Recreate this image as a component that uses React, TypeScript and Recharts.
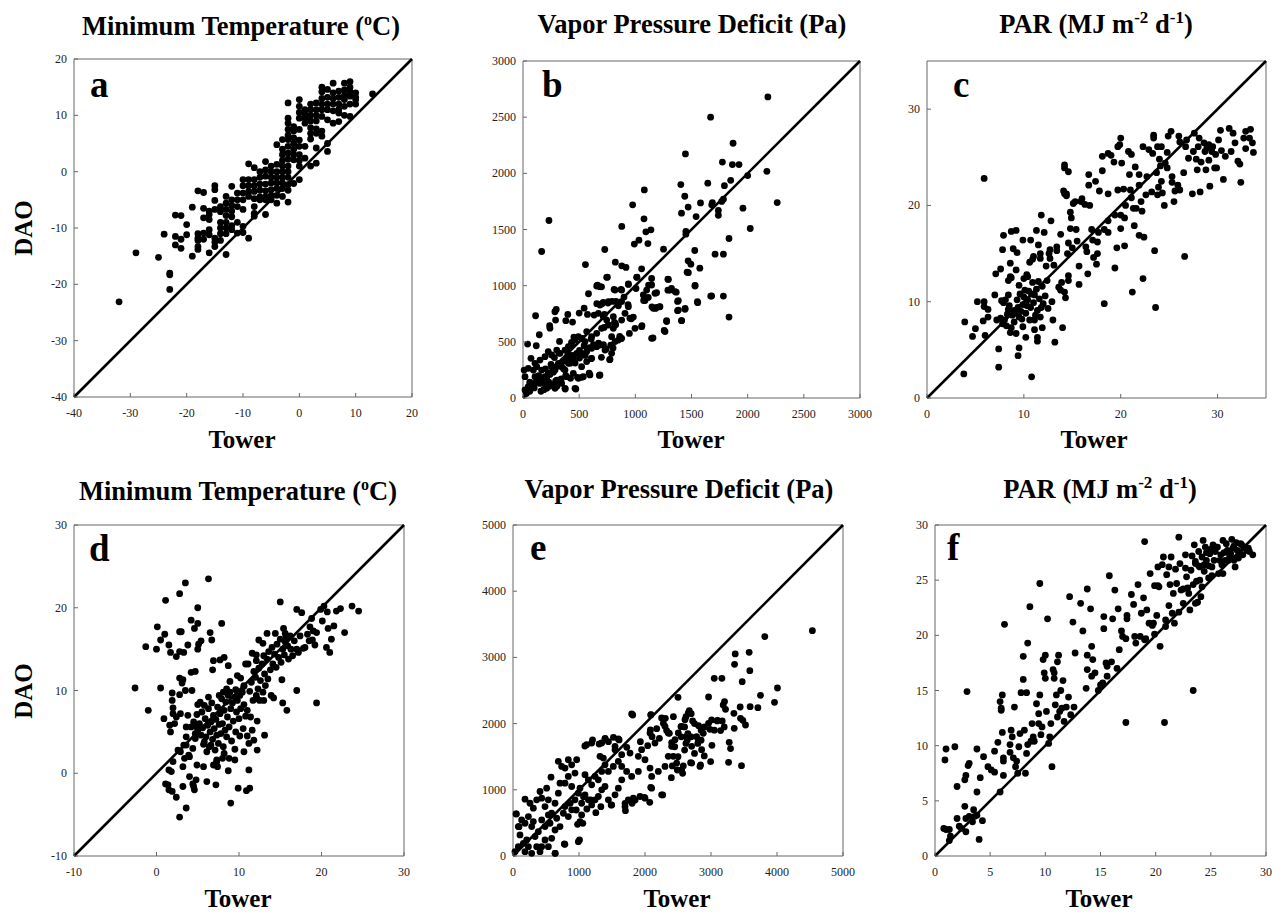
import { ScatterChart, Scatter, XAxis, YAxis, ReferenceLine, ReferenceArea } from 'recharts';

// tower vs DAO pairs: [tower, dao]
const tminA: number[][] = [
  [-32, -23.1], [-29, -14.4], [-25, -15.2], [-24, -11.1], [-23, -18], [-23, -18.3], [-23, -20.9],
  [-22, -7.7], [-22, -11.5], [-22, -13], [-21, -7.8], [-21, -12], [-21, -13.6],
  [-20, -9.4], [-20, -11.2], [-19, -6.3], [-19, -15],
  [-18, -3.4], [-18, -11], [-18, -11.8], [-18, -12.2], [-18, -13.3], [-18, -13.8],
  [-17, -3.7], [-17, -6.5], [-17, -8.2], [-17, -10.9], [-17, -12],
  [-16, -7], [-16, -7.6], [-16, -8.5], [-16, -10.3], [-16, -11.2], [-16, -14.4],
  [-15, -2.5], [-15, -3.2], [-15, -5.1], [-15, -6.7], [-15, -11.8], [-15, -12.5], [-15, -13.3],
  [-14, -6.2], [-14, -7.1], [-14, -9], [-14, -10], [-14, -11], [-14, -12.2],
  [-13, -4.4], [-13, -5.6], [-13, -6.7], [-13, -7.8], [-13, -9], [-13, -10], [-13, -11], [-13, -14.7],
  [-12, -2.6], [-12, -5], [-12, -6], [-12, -7], [-12, -8], [-12, -9.6], [-12, -10.3],
  [-11, -3.8], [-11, -5], [-11, -6.2], [-11, -9], [-11, -10.9],
  [-10, -1.4], [-10, -2.5], [-10, -3.8], [-10, -5], [-10, -6.7], [-10, -9.7], [-10, -10.8],
  [-9, 1.4], [-9, -1.4], [-9, -2.5], [-9, -3.5], [-9, -4.4], [-9, -11.8],
  [-8, 0.7], [-8, -1.4], [-8, -2.5], [-8, -3.5], [-8, -4.8], [-8, -6.2], [-8, -7.4], [-8, -7.9],
  [-7, 0], [-7, -1], [-7, -2.2], [-7, -3.3], [-7, -4.5], [-7, -5],
  [-6, 1.8], [-6, 0.3], [-6, -0.8], [-6, -2.2], [-6, -3.4], [-6, -4.5], [-6, -5], [-6, -7.6],
  [-5, 1], [-5, 0], [-5, -1], [-5, -2], [-5, -3.2], [-5, -4.2], [-5, -5],
  [-4, 4.8], [-4, 1.3], [-4, 0], [-4, -1], [-4, -2], [-4, -3], [-4, -4.2], [-4, -5.6],
  [-3, 5.7], [-3, 4], [-3, 3], [-3, 2], [-3, 1], [-3, 0], [-3, -1], [-3, -2], [-3, -3], [-3, -4.4],
  [-2, 12.2], [-2, 9.5], [-2, 8.6], [-2, 7.5], [-2, 6.5], [-2, 5.7], [-2, 4.5], [-2, 3.3], [-2, 2.2],
  [-2, 1], [-2, 0], [-2, -1], [-2, -2.3], [-2, -3.3], [-2, -5.4],
  [-1, 8], [-1, 7.2], [-1, 6], [-1, 5], [-1, 4], [-1, 3], [-1, 2.1], [-1, -2.1],
  [0, 12.8], [0, 11.6], [0, 10.5], [0, 9.5], [0, 7.5], [0, 5.6], [0, 4.5], [0, 3], [0, 2], [0, 1], [0, -1.4],
  [1, 11], [1, 10.2], [1, 9.5], [1, 8.6], [1, 4.5], [1, 2.4],
  [2, 12], [2, 11], [2, 10], [2, 9], [2, 7.8], [2, 6.8], [2, 5.8], [2, 1],
  [3, 12.2], [3, 11], [3, 10], [3, 9], [3, 7.6], [3, 6.8], [3, 4.2], [3, 1.5],
  [4, 15], [4, 14.2], [4, 13], [4, 12], [4, 11], [4, 9.8], [4, 7.2], [4, 6.3],
  [5, 14.6], [5, 13.2], [5, 12], [5, 11], [5, 9.2], [5, 5], [5, 3.6],
  [6, 15.7], [6, 14], [6, 13], [6, 12], [6, 10.8], [6, 8.6],
  [7, 14.3], [7, 13.2], [7, 12], [7, 11], [7, 10.4], [7, 8.9],
  [8, 15.7], [8, 14.5], [8, 13.5], [8, 12.8], [8, 11.6], [8, 10],
  [9, 16], [9, 15], [9, 14.2], [9, 13.4], [9, 12], [9, 9.8],
  [10, 14], [10, 13.2], [10, 12.8], [10, 12],
  [13, 13.8],
];

const vpdB: number[][] = [
  [2180, 2680], [1670, 2500], [1870, 2268], [1446, 2173], [1775, 2100], [1864, 2078], [1923, 2078],
  [2171, 2018], [2000, 1980], [1849, 1938], [1645, 1912], [1405, 1900], [1793, 1890], [1080, 1852],
  [2263, 1740], [1440, 1796], [1580, 1737], [1686, 1740], [1680, 1720], [1784, 1770], [1769, 1750],
  [1739, 1670], [1739, 1627], [976, 1720], [1411, 1645], [1470, 1700], [1958, 1690], [1541, 1615],
  [1077, 1595], [231, 1580], [2023, 1509], [879, 1527], [1139, 1497], [1094, 1479], [1450, 1482],
  [1450, 1458], [1032, 1405], [991, 1370], [1112, 1375], [1834, 1420], [728, 1322], [1251, 1325],
  [1529, 1313], [166, 1304], [1710, 1280], [1784, 1280], [556, 1188], [822, 1209], [879, 1177],
  [917, 1162], [1470, 1221], [1494, 1191], [1574, 1156], [1056, 1150], [1461, 1120], [751, 1076],
  [1015, 1076], [1145, 1064], [1290, 1058], [1118, 1005], [938, 1011], [1532, 1002], [663, 1005],
  [699, 990], [1006, 975], [873, 966], [811, 966], [1290, 960], [1322, 975], [1364, 942], [583, 928],
  [899, 898], [1189, 937], [1671, 907], [1784, 907], [657, 840], [704, 839], [935, 830], [1074, 868],
  [1115, 895], [1376, 860], [1553, 857], [828, 860], [849, 821], [757, 845], [793, 860], [1148, 812],
  [1216, 812], [1180, 797], [544, 800], [296, 788], [284, 768], [1443, 797], [1376, 777], [112, 732],
  [399, 744], [500, 756], [574, 744], [633, 738], [725, 744], [982, 720], [964, 705], [1278, 688],
  [1411, 688], [1834, 720], [441, 676], [381, 688], [290, 694], [814, 673], [825, 652], [1059, 643],
  [722, 628], [1257, 602], [1157, 534], [240, 622], [237, 643], [145, 563], [325, 504], [453, 542],
  [432, 495], [118, 465], [41, 480], [947, 575], [873, 528], [861, 548], [781, 471], [716, 474],
  [740, 436], [802, 445], [627, 474], [592, 448], [544, 465], [524, 530], [607, 525], [672, 489],
  [503, 424], [698, 362], [772, 341], [607, 350], [553, 379], [503, 356], [464, 311], [376, 335],
  [402, 379], [680, 201], [589, 222], [485, 184], [524, 184], [423, 175], [470, 80], [376, 80],
  [186, 74], [302, 104], [234, 104],
  [71, 353], [107, 309], [151, 338], [196, 368], [225, 413], [255, 383], [300, 427], [329, 398],
  [374, 427], [404, 457], [433, 472], [463, 516], [493, 546], [522, 531], [552, 502], [433, 353],
  [404, 309], [374, 249], [344, 279], [315, 309], [285, 249], [255, 279], [225, 220], [196, 190],
  [166, 249], [137, 160], [107, 190], [77, 131], [47, 101], [18, 71], [10, 249], [18, 190], [47, 264],
  [92, 249], [122, 279], [181, 131], [211, 86], [255, 116], [300, 160], [344, 131], [389, 190],
  [448, 220], [493, 175], [537, 190], [596, 205], [685, 205], [374, 86], [463, 86], [285, 86],
  [478, 398], [522, 398], [567, 413], [611, 442], [656, 457], [685, 472], [611, 353], [567, 324],
  [522, 279], [611, 546], [656, 576], [567, 591], [700, 620], [760, 650], [804, 620], [789, 546],
  [819, 502], [849, 516], [878, 531], [789, 398], [774, 344], [730, 427], [745, 694], [715, 724],
  [671, 754], [804, 724], [819, 665], [878, 694], [908, 754], [952, 710], [997, 620], [1056, 635],
  [938, 813], [878, 858], [760, 858], [715, 852], [685, 828], [656, 997], [685, 991], [745, 1074],
  [819, 961], [878, 961], [938, 1015], [1012, 1074], [1145, 1006], [1101, 961], [1071, 917],
  [1175, 932], [1086, 867], [1160, 798], [1190, 807], [1219, 813], [1279, 680], [1264, 591],
  [1383, 867], [1383, 783], [1412, 689], [1442, 789], [1294, 1056], [1309, 961], [1353, 947],
  [1472, 1116], [1531, 997], [1555, 849], [1679, 908], [1145, 531],
  [30, 40], [60, 60], [90, 110], [120, 150], [150, 130], [180, 170], [210, 180], [240, 210],
  [270, 230], [300, 280], [330, 300], [360, 330], [390, 360], [420, 310], [450, 350], [60, 140],
  [100, 90], [140, 200], [200, 260], [250, 300], [280, 360], [320, 400], [360, 260], [400, 400],
  [440, 380], [160, 60], [230, 140], [290, 150], [340, 170], [380, 200],
];

const parC: number[][] = [
  [3.8, 2.5], [3.9, 7.9], [4.7, 6.4], [5, 7.2], [5.2, 10], [5.9, 22.8], [6, 6.5], [5.8, 8], [5.9, 10],
  [5.9, 9.5], [6.3, 9.2], [6.3, 8.4], [7, 10.7], [7.1, 12.9], [7.2, 8.1], [7.4, 5.1], [7.4, 3.2],
  [7.6, 13.4], [7.7, 10.1], [7.8, 15.4], [7.9, 16.9], [8.4, 10.7], [8.6, 14], [8.4, 12.2], [8.6, 12.6],
  [8.7, 17.3], [9.2, 17.4], [8.9, 15.5], [9.3, 15.1], [9.5, 5.2], [9.4, 4.4], [9.9, 16.4], [10.7, 16.4],
  [10.2, 6.3], [10.8, 2.2], [10.9, 14.4], [11, 14.7], [11.1, 7.1], [11.1, 8.1], [11.4, 5.9], [11.4, 6.3],
  [11.3, 17.4], [11.5, 15.9], [11.8, 19], [11.7, 15], [11.7, 14.5], [11.9, 7.3], [12.1, 17.2],
  [12.3, 13.7], [12.6, 15], [12.7, 15.4], [12.7, 14.5], [12.8, 18.4], [12.9, 10], [13, 8.1],
  [13.2, 5.8], [13.4, 15.7], [13.4, 15.3], [13.1, 13.8], [13.6, 11.5], [13.8, 11.2], [13.8, 17],
  [13.9, 12], [14, 7.3], [14.1, 21.5], [14.2, 21.2], [14.2, 23.9], [14.2, 24.2], [14.6, 23.5],
  [14.3, 10.4], [14.2, 11], [14.4, 21.2], [14.4, 21], [14.6, 16.1], [14.5, 15], [14.6, 12.7],
  [14.6, 12.2], [14.8, 19.3], [14.9, 18.7], [14.8, 17.6], [15, 15.6], [15.1, 20.2], [15.3, 20.4],
  [15.4, 17.5], [15.5, 16.3], [15.7, 11.8], [15.7, 13.7], [15.9, 20.4], [16, 20.7], [16.3, 20.1],
  [16.4, 15.7], [16.5, 15.2], [16.6, 12.9], [16.7, 22.1], [16.7, 23.2], [16.8, 20], [17, 17.5],
  [17.1, 16.4], [17.2, 14.6], [17.4, 22.5], [17.5, 13.9], [17.6, 15], [17.7, 17.2], [17.6, 16.2],
  [17.8, 21.5], [18.1, 23.6], [18.1, 25.1], [18.3, 9.8], [18.3, 17.5], [18.7, 17.2], [18.7, 25.4],
  [18.7, 21.2], [18.7, 18.4], [19, 25.2], [19.3, 24.5], [19.4, 19], [19.4, 13.5], [19.6, 15.6],
  [19.7, 26.1], [19.9, 26.3], [19.7, 21.6], [20, 27], [20, 19], [20, 17.6], [20.1, 24.4], [20.3, 21.7],
  [20.4, 18.7], [20.4, 15.8], [20.5, 20], [20.8, 25.6], [21.1, 25.3], [20.9, 23.2], [21, 21.6],
  [21.1, 20.8], [21.2, 11], [21.3, 19.7], [21.4, 17.9], [21.5, 24], [21.6, 19.7], [21.9, 23.2],
  [21.9, 22.1], [22.1, 20.4], [22.2, 19.4], [21.9, 16.9], [22.4, 16.7], [22.3, 12.4], [22.3, 26.1],
  [22.6, 21.1], [22.7, 23], [22.9, 25.8], [23.2, 21.4], [23.3, 25.4], [23.4, 27.3], [23.4, 27],
  [23.5, 15.3], [23.6, 9.4], [23.8, 26.1], [23.7, 23.4], [23.8, 21.1], [23.9, 21.9], [24, 24.8],
  [24.1, 24.1], [24.2, 22.5], [24.3, 21.3], [24.2, 26.1], [24.5, 20], [24.6, 24.4], [24.8, 25.5],
  [24.8, 23.9], [24.9, 27.2], [25.2, 27.7], [25.3, 23], [25.3, 22.4], [25.5, 20.4], [25.6, 21.5],
  [25.9, 22.1], [26, 27.2], [26.1, 21.6], [26.1, 26.6], [26.5, 23.4], [26.6, 14.7], [26.7, 26.1],
  [26.8, 26.8], [27, 24.9], [27.4, 21.2], [27.5, 25.6], [27.6, 27.5], [27.8, 24.8], [27.9, 23.7],
  [28, 26.1], [28.2, 21.4], [28.1, 27], [28.3, 24.5], [28.6, 26.5], [28.7, 25.6], [28.8, 23.7],
  [28.9, 26], [29.1, 26.3], [29.1, 24.7], [29.2, 22], [29.4, 25.6], [29.5, 26.1], [29.7, 23.9],
  [29.8, 25.3], [29.9, 23.9], [30.1, 26.8], [30.3, 27.8], [30.4, 25.7], [30.6, 22.7], [30.8, 25.1],
  [31.2, 28], [31.4, 25.6], [31.6, 27.5], [31.8, 26.5], [32.1, 24.6], [32.3, 24.3], [32.4, 22.4],
  [32.7, 27], [32.9, 25.9], [32.9, 27.7], [33.3, 27], [33.4, 27.9], [33.6, 26.5], [33.7, 25.5],
  [7.6, 8.3], [7.8, 7.7], [8, 8.1], [8.2, 7.5], [8.3, 8.7], [8.5, 9.6], [8.7, 7.3], [8.8, 8.6],
  [9, 9.1], [9, 7.9], [9.1, 8.8], [9.3, 10.2], [9.4, 9.4], [9.5, 8.4], [9.6, 10.8], [9.7, 9],
  [9.8, 8.2], [9.9, 9.7], [10, 10.5], [10.1, 11.2], [10.2, 8.8], [10.3, 9.6], [10.4, 10.2],
  [10.5, 11.1], [10.6, 8.1], [10.7, 9.4], [10.8, 10.8], [10.9, 12], [11, 9.9], [11.1, 10.7],
  [11.2, 8.6], [11.3, 11.3], [11.4, 9.1], [11.5, 12.1], [11.6, 10.3], [11.8, 9.4], [11.9, 11.6],
  [12, 9.8], [12.2, 10.6], [12.4, 12.2], [8.1, 10.2], [8.6, 6.8], [9.2, 6.7], [9.9, 7.4],
  [10.4, 12.6], [7.9, 9.9], [8.4, 9.2], [11.7, 8.4], [12.5, 9.3], [8.7, 12.5], [9.5, 11.7],
  [10, 12.4], [10.3, 12.8], [9.2, 13.3], [10.6, 14.1],
];

const tminD: number[][] = [
  [-2.6, 10.3], [-1.3, 15.3], [-1, 7.6], [0.1, 17.7], [0, 15], [0.5, 10.3], [0.5, 16.1], [0.9, 6.6],
  [1.1, 20.9], [1, 16.8], [1.5, 15.5], [1.6, 5.8], [1.7, 14.6], [1.7, 5], [1.9, 9.7], [1.9, 8.8],
  [2, 7.9], [2, 7.2], [2.2, 6], [2, 1.4], [1.5, 0.4], [1.8, 0.2], [1.1, -1.3], [1.4, -1.4], [1.5, -2],
  [1.9, -2.2], [2.4, -2.9], [2.8, 21.7], [3.5, 23], [2.8, 17.1], [3, 17.1], [2.4, 14.1], [2.8, 14.7],
  [3.3, 14.6], [2.8, 11.5], [3.2, 11.3], [3.1, 10.9], [3.5, 10], [2.8, 9.5], [2.9, 7.2], [2.4, 6.8],
  [2.6, 2.8], [2.9, 2.6], [3.3, 3.4], [3.6, 4.4], [3.2, 0.8], [2.8, -5.3], [3.6, -4.2], [3.2, -1.6],
  [3.8, 15.5], [4.2, 18.5], [4.2, 12.2], [4.7, 12.3], [4.3, 10], [3.8, 7], [3.6, 5.6], [4, 2],
  [4, -0.4], [4.4, -1.3], [4.5, -1.6], [4.6, -2], [4.8, -0.8], [5, 20], [4.6, 17.5], [5, 18.1],
  [5.1, 15.6], [5.4, 16], [5, 15], [5, 8.3], [4.9, 1], [6.3, 23.5], [6.5, 17], [6.7, 16.1],
  [6.9, 13.6], [6.8, 12.5], [7.9, 18.1], [7.7, 13.7], [8.2, 14], [8.7, 13], [6.1, -1], [7.2, -1.4],
  [5.7, 0.8], [6.9, 1], [7.4, 0.8], [7.3, 1.6], [8.7, 0.3], [9, -3.6], [9.9, -1.8], [10.9, -2.1],
  [11.3, -1.8], [11.2, 0.4], [9.5, 1.6], [8.8, 1.8], [8.2, 2.4], [8.9, 11.1], [9.8, 11.8],
  [10.2, 11.5], [10.6, 10.5], [10.8, 13.2], [11.6, 14.5], [12.1, 14.3], [12.4, 16.1], [12.9, 15.7],
  [13.4, 16.9], [14.4, 16.9], [15, 20.7], [15.4, 17.5], [15.6, 16.9], [15.6, 15.9], [15.2, 11.3],
  [15.3, 8.5], [15.8, 7.6], [17, 10], [17, 19.8], [17.6, 19.4], [17.8, 15.1], [18.6, 17.7],
  [18.8, 18.7], [18.9, 16.1], [19.2, 15.5], [19.4, 8.5], [19.9, 19.8], [20.1, 18.4], [20.3, 20.2],
  [20.6, 15.2], [20.7, 19.5], [20.8, 17.5], [21, 14.6], [21.2, 16.2], [21.5, 17.8], [21.8, 19.6],
  [22.3, 19.9], [22.8, 17], [23.7, 20.2], [24.5, 19.6],
  [4.2, 5.6], [4.5, 6.2], [4.7, 4.8], [4.9, 7.1], [5, 5.2], [5.2, 6], [5.4, 4.6], [5.5, 7.4],
  [5.6, 5.5], [5.8, 3.8], [5.9, 6.6], [6, 4.4], [6.2, 5.8], [6.3, 7.8], [6.4, 3.2], [6.5, 5],
  [6.6, 6.2], [6.8, 4.1], [6.9, 7], [7, 5.4], [7.1, 2.8], [7.2, 6.5], [7.3, 4.6], [7.4, 8],
  [7.5, 3.6], [7.6, 5.9], [7.7, 7.2], [7.8, 4.8], [7.9, 9], [8, 6], [8.1, 3.2], [8.2, 7.6],
  [8.3, 5.2], [8.4, 8.6], [8.5, 4.4], [8.6, 6.8], [8.7, 9.4], [8.8, 5.6], [9, 7.8], [9.1, 3.9],
  [9.2, 8.5], [9.3, 6.3], [9.5, 9.2], [9.6, 5], [9.7, 7.4], [9.8, 8.8], [10, 6.6], [10.1, 4.5],
  [10.2, 7.8], [10.4, 9.8], [10.5, 5.4], [10.6, 8.3], [10.8, 6.9], [11, 4.5], [11, 7.6], [11.2, 3.6],
  [11.4, 6.8], [11.6, 5.2], [11.8, 4], [12.2, 6.3], [12.2, 2.8], [13.1, 4.6], [10.6, 2.6], [9.5, 2.9],
  [8, 1.8], [7.3, 1.4], [6.6, 3.4], [6.1, 2.6], [5.7, 3.5], [4.7, 4.2], [4.4, 3], [3.9, 2.2],
  [3.4, 1.8], [3.6, 3.4], [4.9, 5.6], [5.3, 8.6], [5.8, 8.2], [6.7, 8.5], [6.3, 9.2], [7.6, 9.4],
  [8.1, 9.8], [8.5, 10.2], [8.9, 9.8], [9.6, 10.1], [10.1, 9.4], [10.6, 10.6], [11.3, 9.9],
  [11.5, 11], [11.8, 12.3], [12, 11.6], [12.1, 13.6], [12.2, 9], [12.3, 10.2], [12.4, 12.7],
  [12.5, 8.8], [12.6, 11.2], [12.8, 13.2], [12.9, 9.8], [13, 14.2], [13.1, 12], [13.2, 10.6],
  [13.4, 13.8], [13.5, 11.4], [13.6, 14.7], [13.8, 12.5], [13.9, 9.4], [14, 15.2], [14.1, 13.2],
  [14.2, 9.1], [14.3, 14.4], [14.5, 12.8], [14.6, 15.6], [14.8, 14], [15, 16.2], [15.1, 13.4],
  [15.3, 15], [15.5, 14.3], [15.7, 16.4], [15.9, 15.4], [16, 13.8], [16.2, 16.6], [16.3, 15],
  [16.5, 14.2], [16.7, 16], [17, 15], [17.2, 14.6], [17.4, 16.6], [18, 15.2], [18.3, 16.8],
  [18.5, 16], [19, 17.2], [19.4, 17], [12.1, 9.4], [11.1, 13.2], [11.7, 8.8], [13, 8.8],
];

const vpdE: number[][] = [
  [4536, 3404], [3815, 3314], [3367, 3052], [3578, 3077], [3357, 2896], [3588, 2800], [3049, 2684],
  [3165, 2684], [3473, 2634], [4007, 2538], [3750, 2427], [2963, 2402], [2500, 2397], [3962, 2322],
  [3205, 2332], [3185, 2281], [3220, 2216], [3593, 2256], [3710, 2241], [3442, 2251], [3347, 2155],
  [2671, 2196], [1814, 2130], [2087, 2130], [2430, 2105], [2621, 2105], [2308, 2080], [2278, 2004],
  [2722, 2040], [3482, 2050], [3523, 1979], [3447, 2080], [2963, 2004], [3094, 2040], [3170, 2040],
  [3009, 2055], [2812, 1969], [2545, 1954], [3352, 1929], [2983, 1914], [3145, 1894], [2177, 1924],
  [2082, 1904], [1522, 1793], [2369, 1853], [2328, 1894], [2782, 1803], [2883, 1853], [2107, 1803],
  [2218, 1778], [1205, 1753], [1305, 1692], [1089, 1662], [1396, 1778], [1446, 1727], [1608, 1753],
  [1724, 1642], [1930, 1727], [2041, 1667], [2404, 1712], [2641, 1753], [3014, 1672], [3276, 1717],
  [3296, 1622], [3266, 1415], [3462, 1365], [2994, 1425], [2898, 1511], [2842, 1375], [2691, 1410],
  [2580, 1360], [2570, 1249], [2490, 1299], [2414, 1360], [2399, 1183], [2268, 922], [2072, 811],
  [2087, 1037], [1991, 886], [1850, 846], [1698, 796], [1704, 685], [1804, 796], [1487, 770],
  [1331, 745], [1255, 655], [1179, 846], [1068, 896], [1119, 710], [1058, 493], [978, 478],
  [1008, 242], [786, 176], [958, 695], [867, 796], [640, 40], [50, 635], [91, 443],
  [2600, 1950], [2650, 1850], [2700, 1800], [2750, 2000], [2850, 1900], [2900, 1950], [3050, 1900],
  [3100, 2050], [2450, 1650], [2600, 1600], [2750, 1550], [3200, 1950], [2850, 1750], [2500, 1500],
  [2620, 1700], [2550, 1800], [2700, 2150], [2800, 1700],
  [1798, 2146], [2091, 2136], [46, 636], [81, 444], [106, 318], [157, 192], [182, 858], [258, 797],
  [308, 722], [359, 848], [409, 974], [435, 873], [510, 1025], [576, 1191], [687, 1429], [737, 1353],
  [788, 1328], [838, 1454], [889, 1378], [939, 1252], [965, 1454], [485, 747], [536, 848], [586, 646],
  [637, 797], [687, 949], [712, 1100], [788, 1100], [838, 1202], [889, 1050], [939, 848], [990, 949],
  [1040, 797], [1015, 1025], [1091, 924], [1142, 848], [1192, 772], [1243, 848], [1293, 899],
  [1344, 1000], [1394, 1050], [1445, 848], [1495, 772], [1546, 924], [1596, 1025], [1647, 1151],
  [1697, 747], [1747, 848], [1823, 873], [1924, 899], [2000, 873], [2101, 1025], [2101, 1202],
  [2252, 924], [2202, 1277], [2303, 1353], [2353, 1505], [2404, 1656], [2455, 1757], [2505, 1858],
  [2555, 1959], [2606, 2060], [2656, 2161], [2631, 1808], [2707, 1656], [2808, 1757], [2858, 1606],
  [2833, 1353], [2707, 1403], [2555, 1302], [2480, 1403], [2429, 1505], [2353, 1858], [2303, 1959],
  [2252, 2085], [2076, 1858], [2151, 1707], [1949, 1606], [1899, 1505], [2000, 1454], [2076, 1328],
  [1899, 1277], [1798, 1202], [1722, 1277], [1647, 1353], [1596, 1429], [1520, 1353], [1445, 1277],
  [1394, 1378], [1344, 1277], [1293, 1151], [1243, 1202], [1192, 1075], [1142, 1151], [1091, 1227],
  [1369, 1479], [1318, 1505], [1546, 1606], [1647, 1530], [1773, 1555], [1116, 1681], [1192, 1707],
  [1344, 1707], [1394, 1767], [1596, 1767], [1546, 1656], [1015, 505], [990, 217], [778, 181],
  [637, 40], [283, 40], [359, 141], [233, 141], [485, 242], [384, 368], [283, 444], [182, 495],
  [131, 545], [435, 545], [561, 495], [637, 393], [712, 444], [485, 444], [334, 293], [207, 242],
  [81, 141], [30, 66], [434, 141], [536, 141], [586, 267], [409, 66], [182, 66], [233, 596],
  [308, 520], [536, 621], [662, 570], [763, 646], [838, 596], [788, 747], [889, 697], [1040, 621],
  [1015, 520],
];

const parF: number[][] = [
  [0.8, 2.5], [1, 2.4], [1.3, 2.4], [0.9, 8.7], [1, 9.7], [1.4, 1.8], [1.3, 1.4], [1.8, 9.9], [2, 6.3],
  [2, 3.4], [2.2, 2.7], [2.4, 2.5], [2.8, 2.2], [2.7, 6.9], [2.7, 4.5], [2.9, 14.9], [2.8, 7.3],
  [3, 8.2], [3.1, 8.4], [2.8, 3.4], [3.1, 3.6], [3.4, 3.1], [3.5, 4.2], [3.6, 3.6], [3.8, 9.7],
  [3.8, 5.8], [3.8, 3.7], [4, 1.5], [4.1, 7.1], [4.3, 3.2], [4.4, 9], [4.8, 8.1], [5.1, 7.8],
  [5.4, 7.6], [5.4, 9.5], [5.7, 10.3], [5.9, 5.8], [5.9, 14], [6.1, 14.6], [6, 13.4], [6, 13.2],
  [6.1, 11.2], [6.2, 8.9], [6.2, 8.6], [6.2, 7.3], [6.3, 21], [6.8, 9.4], [6.8, 10.1], [6.9, 11.4],
  [7, 10.8], [7.1, 8.9], [7.2, 13.5], [7.4, 8.6], [7.3, 8.1], [7.5, 7.5], [7.6, 9.9], [7.7, 11.1],
  [7.8, 14.8], [8, 16], [8, 18.1], [8.1, 11.4], [8.3, 14.8], [8.4, 19.3], [8.2, 7.5], [8.3, 9.3],
  [8.4, 10.1], [8.6, 22.6], [8.7, 10.4], [8.8, 12], [8.9, 10.8], [9, 10.4], [9.2, 13.8], [9.4, 12],
  [9.4, 12.9], [9.5, 24.7], [9.5, 14.6], [9.6, 11], [9.7, 11.7], [9.8, 17.8], [9.9, 16.6], [10, 16.1],
  [10, 18.2], [10.1, 13.1], [10.2, 21.5], [10.3, 10.2], [10.4, 10.8], [10.5, 12], [10.6, 8.1],
  [10.7, 16.9], [10.8, 16.6], [10.8, 16.1], [10.9, 13.7], [11, 14.6], [11.1, 17.6], [11.2, 18.2],
  [11.1, 12.6], [11.3, 13.1], [11.4, 15], [11.5, 13.4], [11.6, 15.9], [11.7, 12.2], [11.9, 13.5],
  [12.1, 14.4], [12.2, 23.5], [12.3, 12.8], [12.5, 21.2], [12.6, 13.5], [12.7, 18.4], [13.2, 22.9],
  [13.4, 20.4], [13.7, 15.2], [13.8, 24.2], [13.8, 18.2], [13.8, 16.9], [14.1, 22.4], [14.2, 19],
  [14.3, 17.8], [14.2, 16.3], [14.5, 16.6], [14.8, 15], [15, 15.5], [15.2, 15.7], [15.3, 21.7],
  [15.3, 20.6], [15.5, 17.5], [15.6, 17.2], [15.6, 16.3], [15.8, 25.4], [16, 17.6], [16.1, 21.5],
  [16.3, 24.1], [16.5, 17], [16.6, 22.4], [16.7, 18.7], [16.9, 20.4], [17, 19.9], [17.3, 19.7],
  [17.3, 12.1], [17.4, 21.8], [17.4, 21.5], [17.8, 23.7], [18, 22.8], [18.1, 19.9], [18.2, 19.3],
  [18.4, 24.6], [18.6, 19.9], [18.7, 22], [18.9, 23.4], [19, 28.5], [19, 19.6], [19.1, 19.7],
  [19.2, 22.3], [19.4, 21.1], [19.5, 25.6], [19.7, 20.9], [19.8, 21.1], [19.9, 20.1], [19.9, 24.5],
  [20.1, 21.8], [20.2, 24.5], [20.3, 24.4], [20.2, 26.2], [20.4, 19], [20.6, 26.4], [20.7, 27.1],
  [20.8, 12.1], [20.9, 21.4], [20.9, 20.8], [21, 25.5], [21.2, 26.2], [21.2, 22.7], [21.3, 24.6],
  [21.4, 27.1], [21.5, 22], [21.6, 23.8], [21.7, 21.1], [21.8, 26], [21.9, 24.7], [22.1, 28.9],
  [22.1, 22.1], [22.2, 26.5], [22.3, 24.1], [22.5, 24.2], [22.5, 22.9], [22.7, 26.1], [22.7, 27.3],
  [22.8, 25.3], [23, 23.8], [23.1, 22.3], [23.2, 25.9], [23.4, 15], [23.5, 28.2], [23.6, 26.7],
  [23.7, 24.9], [23.8, 23], [23.9, 27.6], [24, 26.2], [24.1, 23.5], [24.2, 27.1], [24.3, 28.6],
  [24.4, 25.8], [24.5, 28], [24.6, 26.8], [24.8, 25.2], [24.9, 27.4], [25.1, 26.2], [25.2, 28.2],
  [25.3, 26.8], [25.5, 28], [25.7, 25.6], [25.9, 27.3], [26.1, 28.6], [26.1, 25.6], [26.3, 26.8],
  [26.5, 27.7], [26.6, 26.8], [26.8, 27.4], [26.9, 28.7], [27.1, 28.1], [27.2, 26.2], [27.4, 27.7],
  [27.5, 27], [27.7, 28.3], [27.9, 27.3], [28, 27.9], [28.3, 27.7], [28.5, 27.6], [28.8, 27.3],
  [23.3, 27.2], [23.6, 26.5], [24, 25], [24.2, 24.4], [24.6, 27.5], [24.8, 26.3], [25, 27.8],
  [25.4, 27.6], [25.6, 28], [25.8, 26.8], [26.2, 27.5], [26.4, 28.3], [26.7, 27.2], [27, 27.9],
  [27.3, 28.4], [27.6, 27.5], [27.8, 28.2], [28.1, 28], [28.4, 27.9], [23.9, 26.3], [24.4, 26.4],
  [25.1, 25.4], [26, 26.4], [27.1, 26.8], [22.9, 24.3], [23.4, 24.6], [23.6, 22.9],
];

const tminTicksTop = [-40, -30, -20, -10, 0, 10, 20];
const vpdTicksTop = [0, 500, 1000, 1500, 2000, 2500, 3000];
const parTicksTop = [0, 10, 20, 30];
const tminTicksBottom = [-10, 0, 10, 20, 30];
const vpdTicksBottom = [0, 1000, 2000, 3000, 4000, 5000];
const parTicksBottom = [0, 5, 10, 15, 20, 25, 30];

const SERIF = '"Liberation Serif", "Times New Roman", serif';
const FRAME = '#666';

const panels = [
  { id: 'a', data: tminA, domain: [-40, 20], ticks: tminTicksTop, left: 74, top: 59, w: 338, h: 338 },
  { id: 'b', data: vpdB, domain: [0, 3000], ticks: vpdTicksTop, left: 523, top: 61, w: 337, h: 337 },
  { id: 'c', data: parC, domain: [0, 35], ticks: parTicksTop, left: 927, top: 61, w: 339, h: 337 },
  { id: 'd', data: tminD, domain: [-10, 30], ticks: tminTicksBottom, left: 74, top: 525, w: 330, h: 331 },
  { id: 'e', data: vpdE, domain: [0, 5000], ticks: vpdTicksBottom, left: 513, top: 525, w: 330, h: 331 },
  { id: 'f', data: parF, domain: [0, 30], ticks: parTicksBottom, left: 935, top: 525, w: 331, h: 331 },
];

const Dot = (props: any) => <circle cx={props.cx} cy={props.cy} r={3.4} fill="#000" />;

const labelStyle = { fill: '#222', fontSize: 12, fontFamily: SERIF };

// inward tick marks, labels outside
const BottomTick = ({ x, y, payload }: any) => (
  <g>
    <line x1={x} y1={y} x2={x} y2={y - 4} stroke={FRAME} />
    <text x={x} y={y + 20} textAnchor="middle" {...labelStyle}>{payload.value}</text>
  </g>
);
const LeftTick = ({ x, y, payload }: any) => (
  <g>
    <line x1={x} y1={y} x2={x + 4} y2={y} stroke={FRAME} />
    <text x={x - 7} y={y + 4} textAnchor="end" {...labelStyle}>{payload.value}</text>
  </g>
);
const TopTick = ({ x, y }: any) => <line x1={x} y1={y} x2={x} y2={y + 4} stroke={FRAME} />;
const RightTick = ({ x, y }: any) => <line x1={x} y1={y} x2={x - 4} y2={y} stroke={FRAME} />;

const ML = 60;
const MT = 10;
const MR = 25;
const MB = 30;

function Panel({ p }: { p: (typeof panels)[number] }) {
  const pts = p.data.map(([x, y]) => ({ x, y }));
  const [d0, d1] = p.domain;
  const common = {
    type: 'number' as const,
    domain: p.domain,
    ticks: p.ticks,
    interval: 0 as const,
    tickSize: 0,
    tickMargin: 0,
    axisLine: false,
    tickLine: false,
  };
  return (
    <div style={{ position: 'absolute', left: p.left - ML, top: p.top - MT }}>
      <ScatterChart
        width={p.w + ML + MR}
        height={p.h + MT + MB}
        margin={{ top: MT, right: MR, bottom: 0, left: 0 }}
      >
        <XAxis xAxisId="b" dataKey="x" height={MB} tick={<BottomTick />} {...common} />
        <XAxis xAxisId="t" orientation="top" height={0} tick={<TopTick />} {...common} />
        <YAxis yAxisId="l" dataKey="y" width={ML} tick={<LeftTick />} {...common} />
        <YAxis yAxisId="r" orientation="right" width={0} tick={<RightTick />} {...common} />
        <ReferenceArea
          xAxisId="b"
          yAxisId="l"
          x1={d0}
          x2={d1}
          y1={d0}
          y2={d1}
          fill="none"
          fillOpacity={0}
          stroke={FRAME}
          strokeWidth={1}
          ifOverflow="visible"
        />
        <ReferenceLine
          xAxisId="b"
          yAxisId="l"
          segment={[{ x: d0, y: d0 }, { x: d1, y: d1 }]}
          stroke="#000"
          strokeWidth={2.6}
        />
        <Scatter xAxisId="b" yAxisId="l" data={pts} shape={Dot} isAnimationActive={false} />
      </ScatterChart>
    </div>
  );
}

function Title({ x, y, kind }: { x: number; y: number; kind: string }) {
  return (
    <text x={x} y={y} textAnchor="middle" fontSize={26.5}>
      {kind === 'tmin' && (
        <>
          Minimum Temperature (
          <tspan dy={-10} fontSize={16}>o</tspan>
          <tspan dy={10}>C)</tspan>
        </>
      )}
      {kind === 'vpd' && 'Vapor Pressure Deficit (Pa)'}
      {kind === 'par' && (
        <>
          PAR (MJ m
          <tspan dy={-10} fontSize={17}>-2</tspan>
          <tspan dy={10}> d</tspan>
          <tspan dy={-10} fontSize={17}>-1</tspan>
          <tspan dy={10}>)</tspan>
        </>
      )}
    </text>
  );
}

function Labels() {
  const tower = [[242, 448], [691, 448], [1094, 448], [238, 907], [677, 907], [1099, 907]];
  const letters: [string, number, number][] = [
    ['a', 90, 97], ['b', 542, 97], ['c', 953, 97], ['d', 89, 561], ['e', 530, 560], ['f', 947, 560],
  ];
  return (
    <svg
      width={1280}
      height={913}
      style={{ position: 'absolute', left: 0, top: 0, pointerEvents: 'none' }}
      fontFamily={SERIF}
      fontWeight="bold"
      fill="#000"
    >
      <Title x={241} y={35} kind="tmin" />
      <Title x={692} y={33} kind="vpd" />
      <Title x={1096} y={33} kind="par" />
      <Title x={238} y={500} kind="tmin" />
      <Title x={679} y={498} kind="vpd" />
      <Title x={1100} y={498} kind="par" />
      {tower.map(([x, y], i) => (
        <text key={i} x={x} y={y} textAnchor="middle" fontSize={25}>Tower</text>
      ))}
      <text transform="translate(32,228) rotate(-90)" textAnchor="middle" fontSize={25}>DAO</text>
      <text transform="translate(32,691) rotate(-90)" textAnchor="middle" fontSize={25}>DAO</text>
      {letters.map(([s, x, y]) => (
        <text key={s} x={x} y={y} fontSize={37}>{s}</text>
      ))}
    </svg>
  );
}

export default function App() {
  return (
    <div style={{ position: 'absolute', left: 0, top: 0, width: 1280, height: 913, background: '#fff' }}>
      {panels.map((p) => (
        <Panel key={p.id} p={p} />
      ))}
      <Labels />
    </div>
  );
}
